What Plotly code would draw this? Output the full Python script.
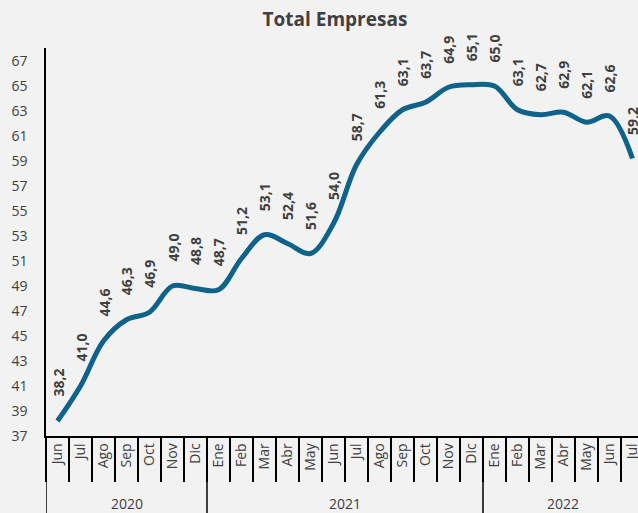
import plotly.graph_objects as go

years = ["2020"] * 7 + ["2021"] * 12 + ["2022"] * 7
months = ["Jun", "Jul", "Ago", "Sep", "Oct", "Nov", "Dic",
          "Ene", "Feb", "Mar", "Abr", "May", "Jun", "Jul", "Ago", "Sep", "Oct", "Nov", "Dic",
          "Ene", "Feb", "Mar", "Abr", "May", "Jun", "Jul"]
values = [38.2, 41.0, 44.6, 46.3, 46.9, 49.0, 48.8,
          48.7, 51.2, 53.1, 52.4, 51.6, 54.0, 58.7, 61.3, 63.1, 63.7, 64.9, 65.1,
          65.0, 63.1, 62.7, 62.9, 62.1, 62.6, 59.2]
y_ticks = list(range(37, 68, 2))

FONT = "Open Sans"
TXT = "#404040"

keys = [f"{m} {y}" for m, y in zip(months, years)]

fig = go.Figure()
fig.add_trace(go.Scatter(
    x=keys, y=values, mode="lines",
    line=dict(color="#0F6289", width=5, shape="spline", smoothing=1.0),
    hoverinfo="skip", showlegend=False,
))

for i, v in enumerate(values):
    fig.add_annotation(
        x=i, y=v, xref="x", yref="y",
        text=f"{v:.1f}".replace(".", ","),
        textangle=-90, showarrow=False,
        xanchor="center", yanchor="bottom", yshift=22,
        font=dict(family=FONT, size=14, color=TXT, weight="bold"),
    )

# year groups: labels centred on each group, dividers at group boundaries
groups = []
for i, y in enumerate(years):
    if not groups or groups[-1][0] != y:
        groups.append([y, i, i])
    else:
        groups[-1][2] = i
for y, a, b in groups:
    fig.add_annotation(
        x=(a + b) / 2, y=-0.173, xref="x", yref="paper",
        text=y, showarrow=False, xanchor="center", yanchor="middle",
        font=dict(family=FONT, size=14, color=TXT),
    )
    fig.add_shape(type="line", xref="x", yref="paper",
                  x0=a - 0.5, x1=a - 0.5, y0=0, y1=-0.3,
                  line=dict(color="black", width=1.5))

fig.update_layout(
    width=638, height=513,
    paper_bgcolor="#F2F2F2", plot_bgcolor="#F2F2F2",
    margin=dict(l=46, r=0, t=48, b=77, autoexpand=False),
    title=dict(text="<b>Total Empresas</b>", x=0.525, xanchor="center",
               y=0.962, yanchor="middle", yref="container",
               font=dict(family=FONT, size=19, color=TXT)),
    xaxis=dict(
        type="category", categoryorder="array", categoryarray=keys,
        tickvals=keys, ticktext=months, tickson="boundaries",
        range=[-0.5, 25.24], automargin=False,
        showline=True, linecolor="black", linewidth=1.5,
        ticks="outside", ticklen=44, tickcolor="black", tickwidth=1.5,
        tickangle=-90, showgrid=False, zeroline=False,
        tickfont=dict(family=FONT, size=14, color=TXT),
    ),
    yaxis=dict(
        range=[37, 68.04], tickvals=y_ticks, automargin=False,
        showline=True, linecolor="black", linewidth=1.5,
        showgrid=False, zeroline=False, ticks="",
        ticklabelstandoff=14,
        tickfont=dict(family=FONT, size=14, color=TXT),
    ),
)

fig.write_html("out.html",
               config={"displayModeBar": False},
               post_script="document.body.style.margin='0';document.body.style.background='#F2F2F2';")
